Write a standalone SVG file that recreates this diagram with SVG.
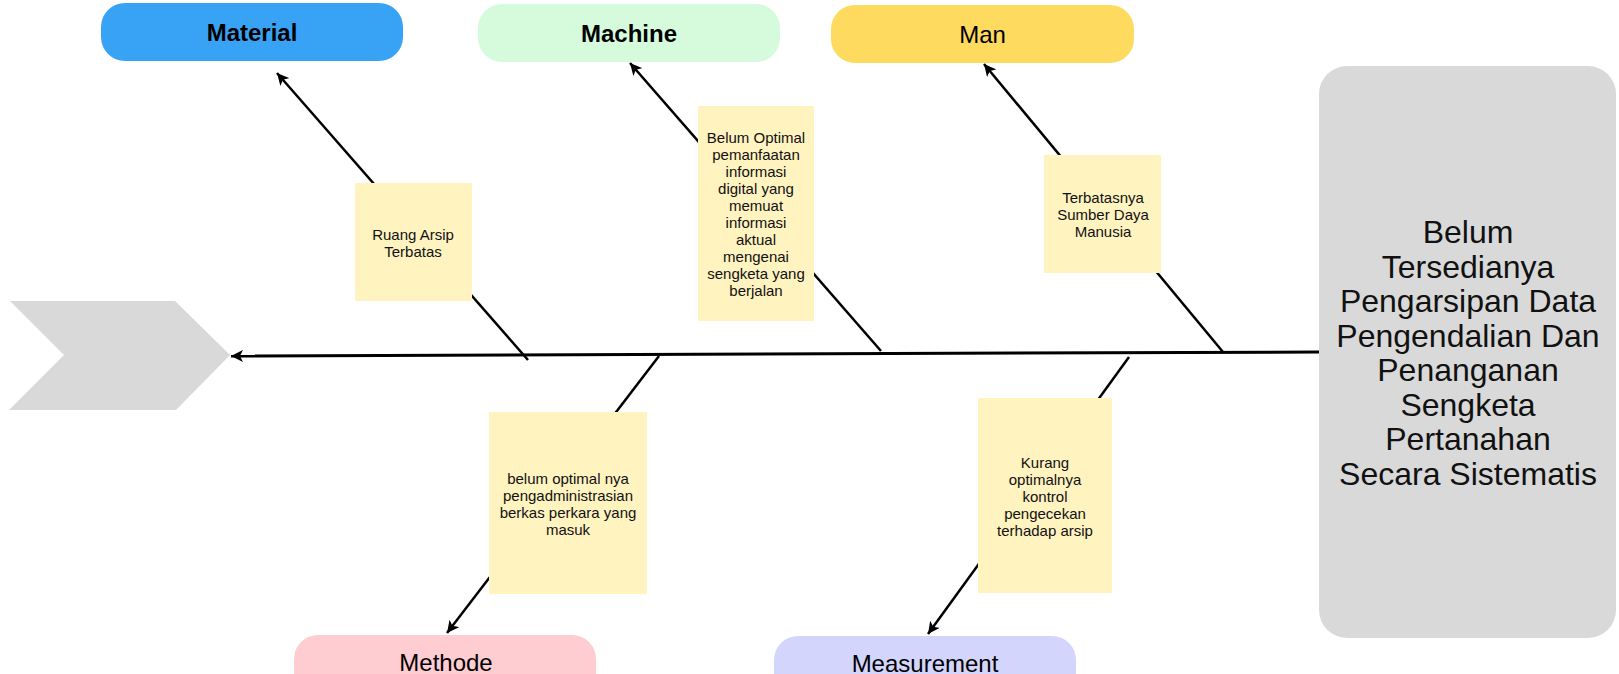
<svg xmlns="http://www.w3.org/2000/svg" width="1619" height="674" viewBox="0 0 1619 674">
<style>
.lbl{font-family:"Liberation Sans",Arial,sans-serif;font-size:24px;fill:#000;text-anchor:middle}
.b{font-weight:bold}
.note{fill:#FFF3C0}
.nt{font-family:"Liberation Sans",Arial,sans-serif;font-size:15px;fill:#111;text-anchor:middle}
.big{font-family:"Liberation Sans",Arial,sans-serif;font-size:32px;fill:#111;text-anchor:middle}
.ln{stroke:#000;stroke-width:2.5;fill:none;marker-end:url(#ah)}
</style>
<defs>
<marker id="ah" markerUnits="userSpaceOnUse" markerWidth="14" markerHeight="12" refX="12" refY="6" orient="auto">
<path d="M0,0 L12,6 L0,12 L3,6 Z" fill="#000"/>
</marker>
</defs>
<rect width="1619" height="674" fill="#fff"/>
<g id="head-chevron">
<polygon points="10,301 175,301 230,355 176,410 9,410 64,355" fill="#D9D9D9"/>
</g>
<g id="effect">
<rect x="1319" y="66" width="297" height="572" rx="28" fill="#D9D9D9"/>
<text class="big" x="1468" y="243">Belum</text>
<text class="big" x="1468" y="277.5">Tersedianya</text>
<text class="big" x="1468" y="312">Pengarsipan Data</text>
<text class="big" x="1468" y="346.5">Pengendalian Dan</text>
<text class="big" x="1468" y="381">Penanganan</text>
<text class="big" x="1468" y="415.5">Sengketa</text>
<text class="big" x="1468" y="450">Pertanahan</text>
<text class="big" x="1468" y="484.5">Secara Sistematis</text>
</g>
<g id="connectors">
<line x1="1319" y1="352" x2="231" y2="356" stroke="#000" stroke-width="3" marker-end="url(#ah)"/>
<line class="ln" x1="528" y1="360" x2="277" y2="73"/>
<line class="ln" x1="881" y1="351" x2="630" y2="63"/>
<line class="ln" x1="1223" y1="352" x2="984" y2="64"/>
<line class="ln" x1="659" y1="356" x2="447" y2="633"/>
<line class="ln" x1="1129" y1="357" x2="928" y2="634"/>
</g>
<g id="note-ruang">
<rect class="note" x="355" y="183" width="117" height="118"/>
<text class="nt" x="413" y="240">Ruang Arsip</text>
<text class="nt" x="413" y="257">Terbatas</text>
</g>
<g id="note-digital">
<rect class="note" x="698" y="106" width="116" height="215"/>
<text class="nt" x="756" y="142.5">Belum Optimal</text>
<text class="nt" x="756" y="159.6">pemanfaatan</text>
<text class="nt" x="756" y="176.6">informasi</text>
<text class="nt" x="756" y="193.7">digital yang</text>
<text class="nt" x="756" y="210.8">memuat</text>
<text class="nt" x="756" y="227.8">informasi</text>
<text class="nt" x="756" y="244.9">aktual</text>
<text class="nt" x="756" y="262">mengenai</text>
<text class="nt" x="756" y="279">sengketa yang</text>
<text class="nt" x="756" y="296">berjalan</text>
</g>
<g id="note-sdm">
<rect class="note" x="1044" y="155" width="117" height="118"/>
<text class="nt" x="1103" y="202.5">Terbatasnya</text>
<text class="nt" x="1103" y="219.5">Sumber Daya</text>
<text class="nt" x="1103" y="236.5">Manusia</text>
</g>
<g id="note-admin">
<rect class="note" x="489" y="412" width="158" height="182"/>
<text class="nt" x="568" y="483.5">belum optimal nya</text>
<text class="nt" x="568" y="500.5">pengadministrasian</text>
<text class="nt" x="568" y="517.5">berkas perkara yang</text>
<text class="nt" x="568" y="534.5">masuk</text>
</g>
<g id="note-kontrol">
<rect class="note" x="978" y="398" width="134" height="195"/>
<text class="nt" x="1045" y="467.5">Kurang</text>
<text class="nt" x="1045" y="484.5">optimalnya</text>
<text class="nt" x="1045" y="501.5">kontrol</text>
<text class="nt" x="1045" y="518.5">pengecekan</text>
<text class="nt" x="1045" y="535.5">terhadap arsip</text>
</g>
<g id="material">
<rect x="101" y="3" width="302" height="58" rx="24" fill="#38A2F5"/>
<text class="lbl b" x="252" y="41">Material</text>
</g>
<g id="machine">
<rect x="478" y="4" width="302" height="58" rx="24" fill="#D5FBDC"/>
<text class="lbl b" x="629" y="42">Machine</text>
</g>
<g id="man">
<rect x="831" y="5" width="303" height="58" rx="24" fill="#FEDA5F"/>
<text class="lbl" x="982.5" y="43">Man</text>
</g>
<g id="methode">
<rect x="294" y="635" width="302" height="80" rx="24" fill="#FECDD2"/>
<text class="lbl" x="446" y="671">Methode</text>
</g>
<g id="measurement">
<rect x="774" y="636" width="302" height="80" rx="24" fill="#D3D5FC"/>
<text class="lbl" x="925" y="672">Measurement</text>
</g>
</svg>
